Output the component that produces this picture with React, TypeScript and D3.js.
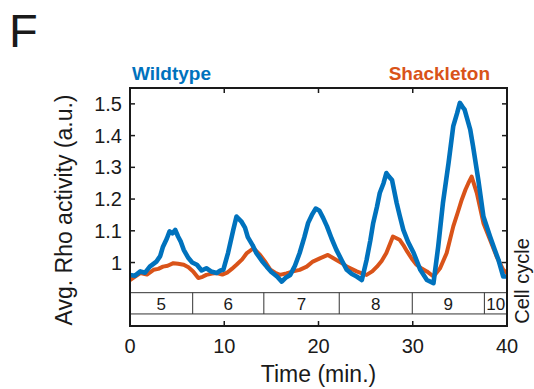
import { useEffect, useRef } from 'react';
import * as d3 from 'd3';

// Wildtype trace (time in min, avg Rho activity a.u.)
const wtTime  = [0, 0.5, 1.1, 1.6, 2.1, 2.8, 3.2, 3.5, 3.9, 4.2, 4.5, 4.8, 5.1, 5.4, 5.7, 6.2, 6.6, 7.1, 7.6, 8.1, 8.6, 9.2, 9.6, 9.9, 10.4, 10.96, 11.3, 11.8, 12.2, 12.5, 13.0, 13.4, 14.0, 14.5, 15.0, 15.6, 16.1, 16.5, 17.0, 17.5, 18.0, 18.5, 18.9, 19.3, 19.7, 20.1, 20.5, 20.9, 21.4, 21.9, 22.5, 23.0, 23.5, 24.05, 24.6, 25.1, 25.5, 25.8, 26.2, 26.5, 26.9, 27.2, 27.5, 27.8, 28.3, 28.6, 29.0, 29.5, 30.1, 30.8, 31.5, 32.2, 32.7, 33.2, 33.8, 34.3, 34.7, 35.0, 35.3, 35.5, 35.8, 36.1, 36.4, 36.96, 37.5, 38.2, 38.7, 39.1, 39.6, 40];
const wtValue = [0.961, 0.958, 0.972, 0.968, 0.987, 1.003, 1.02, 1.05, 1.075, 1.098, 1.092, 1.103, 1.082, 1.065, 1.04, 1.014, 1.0, 0.993, 0.975, 0.982, 0.972, 0.967, 0.975, 0.977, 1.03, 1.103, 1.145, 1.13, 1.11, 1.08, 1.055, 1.03, 1.005, 0.987, 0.97, 0.956, 0.94, 0.952, 0.961, 0.99, 1.03, 1.08, 1.125, 1.15, 1.17, 1.163, 1.14, 1.114, 1.075, 1.04, 1.005, 0.977, 0.965, 0.956, 0.945, 1.008, 1.07, 1.124, 1.175, 1.219, 1.25, 1.282, 1.27, 1.26, 1.187, 1.15, 1.103, 1.065, 1.03, 0.977, 0.945, 0.935, 1.05, 1.187, 1.314, 1.43, 1.47, 1.503, 1.49, 1.482, 1.45, 1.419, 1.366, 1.26, 1.145, 1.082, 1.04, 1.008, 0.956, 0.956];

// Shackleton trace
const shTime  = [0, 0.5, 1.1, 1.8, 2.5, 3.0, 3.5, 4.0, 4.6, 5.1, 5.7, 6.2, 6.7, 7.25, 7.7, 8.1, 8.7, 9.2, 9.8, 10.3, 10.8, 11.3, 11.9, 12.4, 13.1, 13.8, 14.4, 14.9, 15.4, 15.9, 16.6, 17.3, 18.0, 18.75, 19.4, 20.2, 21.0, 21.9, 22.5, 23.0, 23.5, 24.05, 24.6, 25.1, 25.7, 26.2, 26.7, 27.2, 27.9, 28.6, 29.0, 29.4, 29.9, 30.4, 31.0, 31.5, 32.2, 32.9, 33.6, 34.3, 34.8, 35.2, 35.6, 35.9, 36.25, 36.8, 37.5, 38.2, 38.9, 39.6, 40];
const shValue = [0.945, 0.955, 0.967, 0.962, 0.977, 0.98, 0.987, 0.99, 0.998, 0.996, 0.993, 0.985, 0.972, 0.951, 0.955, 0.961, 0.965, 0.967, 0.962, 0.968, 0.98, 0.993, 1.01, 1.03, 1.045, 1.024, 1.0, 0.977, 0.968, 0.961, 0.966, 0.972, 0.977, 0.987, 1.003, 1.014, 1.024, 1.008, 0.998, 0.987, 0.98, 0.972, 0.966, 0.961, 0.972, 0.987, 1.005, 1.03, 1.082, 1.072, 1.055, 1.035, 1.012, 0.993, 0.98, 0.972, 0.956, 0.982, 1.03, 1.114, 1.16, 1.198, 1.23, 1.25, 1.271, 1.219, 1.124, 1.072, 1.019, 0.977, 0.967];

// Cell cycle boundaries (min) and labels
const cycleBounds = [0, 6.65, 14.2, 22.2, 29.95, 37.6, 40];
const cycleLabels = ['5', '6', '7', '8', '9', '10'];

const xTicks = [0, 10, 20, 30, 40];
const yTicks = [1, 1.1, 1.2, 1.3, 1.4, 1.5];

const BLUE = '#0072BD';
const ORANGE = '#D95319';
const INK = '#1a1a1a';
const FONT = '"Liberation Sans", Arial, sans-serif';

export default function App() {
  const ref = useRef<SVGSVGElement>(null);

  useEffect(() => {
    const svg = d3.select(ref.current);
    svg.selectAll('*').remove();

    const left = 130, right = 507, top = 88, bottom = 326;
    const x = d3.scaleLinear().domain([0, 40]).range([left, right]);
    const y = d3.scaleLinear().domain([0.8, 1.55]).range([bottom, top]);

    svg.append('defs').append('clipPath').attr('id', 'plot-clip')
      .append('rect').attr('x', left).attr('y', top)
      .attr('width', right - left).attr('height', bottom - top);

    // Panel letter and legend titles
    svg.append('text').attr('x', 9).attr('y', 47)
      .style('font-family', FONT).style('font-size', '47px').style('fill', INK)
      .text('F');
    svg.append('text').attr('x', left + 2).attr('y', 80)
      .style('font-family', FONT).style('font-size', '19px').style('font-weight', 'bold')
      .style('fill', BLUE).text('Wildtype');
    svg.append('text').attr('x', 490).attr('y', 80).attr('text-anchor', 'end')
      .style('font-family', FONT).style('font-size', '19px').style('font-weight', 'bold')
      .style('fill', ORANGE).text('Shackleton');

    // Traces
    const line = d3.line<[number, number]>().x(d => x(d[0])).y(d => y(d[1]));
    const g = svg.append('g').attr('clip-path', 'url(#plot-clip)');
    g.append('path').datum(shTime.map((t, i) => [t, shValue[i]] as [number, number]))
      .attr('d', line).attr('fill', 'none').attr('stroke', ORANGE)
      .attr('stroke-width', 4).attr('stroke-linejoin', 'round');
    g.append('path').datum(wtTime.map((t, i) => [t, wtValue[i]] as [number, number]))
      .attr('d', line).attr('fill', 'none').attr('stroke', BLUE)
      .attr('stroke-width', 4.6).attr('stroke-linejoin', 'round');

    // Cell cycle bar
    const barTop = y(0.905), barBot = y(0.838);
    svg.append('rect').attr('x', left).attr('y', barTop)
      .attr('width', right - left).attr('height', barBot - barTop)
      .attr('fill', 'white').attr('stroke', '#333').attr('stroke-width', 1);
    cycleBounds.slice(1, -1).forEach(b => {
      svg.append('line').attr('x1', x(b)).attr('x2', x(b))
        .attr('y1', barTop).attr('y2', barBot).attr('stroke', '#333').attr('stroke-width', 1);
    });
    cycleLabels.forEach((lab, i) => {
      svg.append('text').attr('x', x((cycleBounds[i] + cycleBounds[i + 1]) / 2))
        .attr('y', barBot - 4).attr('text-anchor', 'middle')
        .style('font-family', FONT).style('font-size', '17px').style('fill', INK)
        .text(lab);
    });

    // Axes box with inward ticks
    svg.append('rect').attr('x', left).attr('y', top)
      .attr('width', right - left).attr('height', bottom - top)
      .attr('fill', 'none').attr('stroke', INK).attr('stroke-width', 2);
    xTicks.forEach(t => {
      svg.append('line').attr('x1', x(t)).attr('x2', x(t)).attr('y1', bottom).attr('y2', bottom - 5)
        .attr('stroke', INK).attr('stroke-width', 1.5);
      svg.append('line').attr('x1', x(t)).attr('x2', x(t)).attr('y1', top).attr('y2', top + 5)
        .attr('stroke', INK).attr('stroke-width', 1.5);
      svg.append('text').attr('x', x(t)).attr('y', bottom + 27).attr('text-anchor', 'middle')
        .style('font-family', FONT).style('font-size', '20px').style('fill', INK)
        .text(d3.format('d')(t));
    });
    yTicks.forEach(v => {
      svg.append('line').attr('x1', left).attr('x2', left + 5).attr('y1', y(v)).attr('y2', y(v))
        .attr('stroke', INK).attr('stroke-width', 1.5);
      svg.append('line').attr('x1', right).attr('x2', right - 5).attr('y1', y(v)).attr('y2', y(v))
        .attr('stroke', INK).attr('stroke-width', 1.5);
      svg.append('text').attr('x', left - 8).attr('y', y(v) + 7).attr('text-anchor', 'end')
        .style('font-family', FONT).style('font-size', '20px').style('fill', INK)
        .text(v === 1 ? '1' : d3.format('.1f')(v));
    });

    // Axis titles
    svg.append('text').attr('x', (left + right) / 2).attr('y', 382).attr('text-anchor', 'middle')
      .style('font-family', FONT).style('font-size', '23px').style('fill', INK)
      .text('Time (min.)');
    svg.append('text').attr('transform', 'translate(72,210) rotate(-90)').attr('text-anchor', 'middle')
      .style('font-family', FONT).style('font-size', '23px').style('fill', INK)
      .text('Avg. Rho activity (a.u.)');
    svg.append('text').attr('transform', 'translate(529,281) rotate(-90)').attr('text-anchor', 'middle')
      .style('font-family', FONT).style('font-size', '20px').style('fill', INK)
      .text('Cell cycle');
  }, []);

  return (
    <svg ref={ref} width={534} height={389}
      style={{ position: 'fixed', left: 0, top: 0, background: 'white' }} />
  );
}
